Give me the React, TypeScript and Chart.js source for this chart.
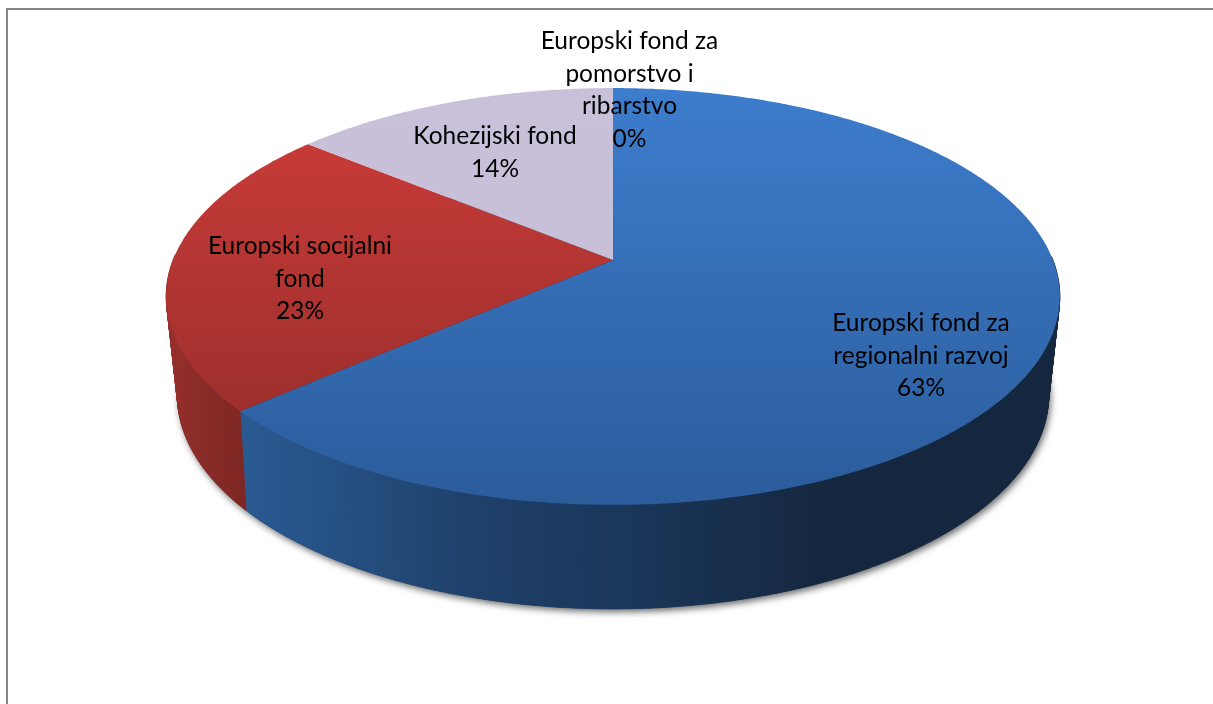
import React, { useEffect, useRef } from "react";
import { Chart, registerables } from "chart.js";

Chart.register(...registerables);

const categories = [
  "Europski fond za regionalni razvoj",
  "Europski socijalni fond",
  "Kohezijski fond",
  "Europski fond za pomorstvo i ribarstvo",
];
const shares = [63.49, 22.51, 14.0, 0];
const labelLines = [
  ["Europski fond za", "regionalni razvoj"],
  ["Europski socijalni", "fond"],
  ["Kohezijski fond"],
  ["Europski fond za", "pomorstvo i", "ribarstvo"],
];
const sliceColors = ["#3366a8", "#b03431", "#c8bfd9", "#7f63a1"];

// face and side shading, per slice
const topShades = [
  ["#3d7dcd", "#2b5c9b"],
  ["#cf3d3a", "#8f2b28"],
  ["#c9c0da", "#c6bdd6"],
  ["#7f63a1", "#7f63a1"],
];
const sideStops: [number, string][][] = [
  [[0.0, "#2a5a92"], [0.3, "#1e3f68"], [0.5, "#1a3558"], [0.72, "#15273f"], [1.0, "#15273f"]],
  [[0.0, "#962f2b"], [1.0, "#7e2521"]],
  [[0.0, "#8f8a9b"], [1.0, "#8f8a9b"]],
  [[0.0, "#4b3a60"], [1.0, "#4b3a60"]],
];
const sideRanges = [[248, 1050], [170, 250], [0, 1213], [0, 1213]];
const labelCentres = [
  { x: 921, y: 331 },
  { x: 300, y: 254 },
  { x: 495, y: 144 },
  { x: 629.5, y: 49 },
];
const LINE_HEIGHT = 32.7;
const FONT = "24.5px Lato";

// perspective of the disc, relative to the pie radius the library computes
const TOP = { k: 0.175, sx: 1.692, sy: 0.777, dy: 0 };
const BOTTOM = { k: 0.19, sx: 1.645, sy: 0.792, dy: 94.7 };

function project(a: number, arc: any, bottom: boolean) {
  const s = bottom ? BOTTOM : TOP;
  const u = Math.cos(a);
  const v = -Math.sin(a);
  const w = 1 + s.k * v;
  const r = arc.outerRadius;
  return { x: arc.x + (s.sx * r * u) / w, y: arc.y + s.dy + (s.sy * r * -v) / w };
}

const disc3d = {
  id: "disc3d",
  beforeDatasetsDraw(chart: any) {
    const ctx: CanvasRenderingContext2D = chart.ctx;
    const arcs = chart.getDatasetMeta(0).data;
    const step = Math.PI / 360;
    const first = arcs[0];

    // soft shadow below the disc
    ctx.save();
    ctx.shadowColor = "rgba(0,0,0,0.6)";
    ctx.shadowBlur = 7;
    ctx.shadowOffsetX = 2;
    ctx.shadowOffsetY = 3;
    ctx.fillStyle = "#1a3558";
    ctx.beginPath();
    for (let a = 0; a < Math.PI * 2; a += step) {
      const p = project(a, first, true);
      ctx.lineTo(p.x, p.y);
    }
    ctx.closePath();
    ctx.fill();
    ctx.restore();

    // side wall: only the part facing the viewer
    arcs.forEach((arc: any, i: number) => {
      const g = ctx.createLinearGradient(sideRanges[i][0], 0, sideRanges[i][1], 0);
      sideStops[i].forEach(([o, c]) => g.addColorStop(o, c));
      ctx.fillStyle = g;
      ctx.strokeStyle = g;
      ctx.lineWidth = 0.7;
      for (let a = arc.startAngle; a < arc.endAngle; a += step) {
        if (-Math.sin(a) > 0.02) continue;
        const b = Math.min(a + step, arc.endAngle);
        const p1 = project(a, arc, false);
        const p2 = project(b, arc, false);
        const p3 = project(b, arc, true);
        const p4 = project(a, arc, true);
        ctx.beginPath();
        ctx.moveTo(p1.x, p1.y);
        ctx.lineTo(p2.x, p2.y);
        ctx.lineTo(p3.x, p3.y);
        ctx.lineTo(p4.x, p4.y);
        ctx.closePath();
        ctx.fill();
        ctx.stroke();
      }
    });

    // top face
    arcs.forEach((arc: any, i: number) => {
      if (arc.endAngle - arc.startAngle <= 0) return;
      const top = project(-Math.PI / 2, arc, false).y;
      const bot = project(Math.PI / 2, arc, false).y;
      const g = ctx.createLinearGradient(0, top, 0, bot);
      g.addColorStop(0, topShades[i][0]);
      g.addColorStop(1, topShades[i][1]);
      ctx.fillStyle = g;
      ctx.beginPath();
      ctx.moveTo(arc.x, arc.y);
      for (let a = arc.startAngle; a < arc.endAngle; a += step) {
        const p = project(a, arc, false);
        ctx.lineTo(p.x, p.y);
      }
      const e = project(arc.endAngle, arc, false);
      ctx.lineTo(e.x, e.y);
      ctx.closePath();
      ctx.fill();
    });
    return false;
  },
  afterDraw(chart: any) {
    const ctx: CanvasRenderingContext2D = chart.ctx;
    const values: number[] = chart.data.datasets[0].data;
    const total = values.reduce((s, n) => s + n, 0);
    ctx.save();
    ctx.font = FONT;
    ctx.fillStyle = "#000";
    ctx.textAlign = "center";
    ctx.textBaseline = "alphabetic";
    values.forEach((val, i) => {
      const lines = [...labelLines[i], `${Math.round((val / total) * 100)}%`];
      lines.forEach((t, j) => {
        ctx.fillText(t, labelCentres[i].x, labelCentres[i].y + j * LINE_HEIGHT);
      });
    });
    ctx.restore();
  },
};

const frame = {
  id: "frame",
  beforeDraw(chart: any) {
    const ctx: CanvasRenderingContext2D = chart.ctx;
    ctx.save();
    ctx.fillStyle = "#ffffff";
    ctx.fillRect(0, 0, chart.width, chart.height);
    ctx.strokeStyle = "#868686";
    ctx.lineWidth = 2;
    ctx.beginPath();
    ctx.moveTo(7, chart.height);
    ctx.lineTo(7, 9);
    ctx.lineTo(chart.width, 9);
    ctx.stroke();
    ctx.restore();
  },
};

export default function App() {
  const ref = useRef<HTMLCanvasElement | null>(null);
  useEffect(() => {
    document.body.style.margin = "0";
    const chart = new Chart(ref.current as HTMLCanvasElement, {
      type: "pie",
      data: {
        labels: categories,
        datasets: [{ data: shares, backgroundColor: sliceColors, borderWidth: 0 }],
      },
      options: {
        responsive: false,
        animation: false,
        devicePixelRatio: 1,
        layout: { padding: { left: 13, right: 0, top: 0, bottom: 184 } },
        plugins: { legend: { display: false }, tooltip: { enabled: false } },
      },
      plugins: [frame, disc3d],
    } as any);
    return () => chart.destroy();
  }, []);
  return (
    <div style={{ position: "absolute", left: 0, top: 0, width: 1213, height: 704, overflow: "hidden" }}>
      <canvas ref={ref} width={1213} height={704} style={{ display: "block" }} />
    </div>
  );
}
